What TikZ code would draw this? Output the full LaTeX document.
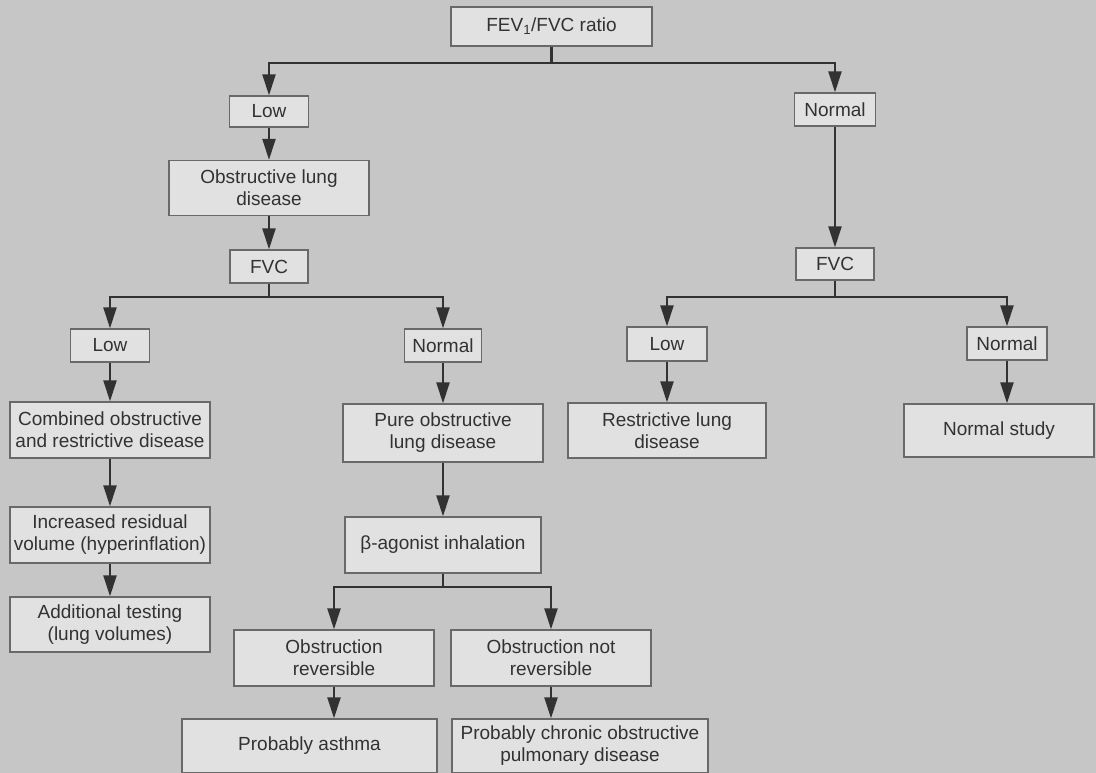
\documentclass[tikz,border=0pt]{standalone}
\usepackage{fontspec}
\setmainfont{Liberation Sans}
\usepackage{xcolor}
\usepackage{tikz}
\usetikzlibrary{arrows.meta, calc}

\definecolor{paper}{RGB}{198,198,198}
\definecolor{boxfill}{RGB}{225,225,225}
\definecolor{boxline}{RGB}{105,105,105}
\definecolor{ink}{RGB}{50,50,50}

\begin{document}
\begin{tikzpicture}[
    x=1pt, y=-1pt,
    box/.style={draw=boxline, line width=1.3pt, fill=boxfill, align=center,
        inner sep=2pt, text=ink, font=\fontsize{19}{22}\selectfont},
    link/.style={draw=ink, line width=2.2pt},
    flow/.style={link, -{Triangle[length=21pt, width=13pt]}}
]
\fill[paper] (0,0) rectangle (1096,773);
\useasboundingbox (0,0) rectangle (1096,773);

\node[box, minimum width=201pt, minimum height=39pt] (ratio) at (551.5,26.5) {FEV\textsubscript{1}/FVC ratio};
\node[box, minimum width=79pt, minimum height=31pt] (low1) at (269,111.5) {Low};
\node[box, minimum width=81pt, minimum height=33pt] (normal1) at (835,109.5) {Normal};
\node[box, minimum width=200pt, minimum height=55pt] (obstr) at (269,188) {Obstructive lung\\disease};
\node[box, minimum width=78pt, minimum height=33pt] (fvc1) at (269,266.5) {FVC};
\node[box, minimum width=78pt, minimum height=32pt] (fvc2) at (835,264) {FVC};

\node[box, minimum width=79pt, minimum height=33pt] (low2) at (110,345.5) {Low};
\node[box, minimum width=77pt, minimum height=33pt] (normal2) at (443,345.5) {Normal};
\node[box, minimum width=80pt, minimum height=34pt] (low3) at (667,344) {Low};
\node[box, minimum width=80pt, minimum height=33pt] (normal3) at (1007,343.5) {Normal};

\node[box, minimum width=200pt, minimum height=56pt] (combined) at (110,430) {Combined obstructive\\and restrictive disease};
\node[box, minimum width=200pt, minimum height=58pt] (pure) at (443,433) {Pure obstructive\\lung disease};
\node[box, minimum width=198pt, minimum height=55pt] (restr) at (667,430.5) {Restrictive lung\\disease};
\node[box, minimum width=190pt, minimum height=53pt] (nstudy) at (999,430.5) {Normal study};

\node[box, minimum width=200pt, minimum height=56pt] (incr) at (110,535) {Increased residual\\volume (hyperinflation)};
\node[box, minimum width=200pt, minimum height=55pt] (addl) at (110,624.5) {Additional testing\\(lung volumes)};
\node[box, minimum width=196pt, minimum height=56pt] (beta) at (443,545) {β-agonist inhalation};
\node[box, minimum width=200pt, minimum height=56pt] (obsrev) at (334,658) {Obstruction\\reversible};
\node[box, minimum width=200pt, minimum height=56pt] (obsnot) at (551,658) {Obstruction not\\reversible};
\node[box, minimum width=255pt, minimum height=54pt] (asthma) at (309.5,746) {Probably asthma};
\node[box, minimum width=256pt, minimum height=54pt] (copd) at (580,746) {Probably chronic obstructive\\pulmonary disease};

\coordinate (j0) at (551.5,63);
\coordinate (j1) at (269,297);
\coordinate (j2) at (835,297);
\coordinate (j3) at (443,587);

\draw[link] (ratio) -- (j0);
\draw[flow] (j0) -| (low1);
\draw[flow] (j0) -| (normal1);
\draw[flow] (low1) -- (obstr);
\draw[flow] (obstr) -- (fvc1);
\draw[flow] (normal1) -- (fvc2);

\draw[link] (fvc1) -- (j1);
\draw[flow] (j1) -| (low2);
\draw[flow] (j1) -| (normal2);
\draw[link] (fvc2) -- (j2);
\draw[flow] (j2) -| (low3);
\draw[flow] (j2) -| (normal3);

\draw[flow] (low2) -- (combined);
\draw[flow] (combined) -- (incr);
\draw[flow] (incr) -- (addl);
\draw[flow] (normal2) -- (pure);
\draw[flow] (pure) -- (beta);
\draw[flow] (low3) -- (restr);
\draw[flow] (normal3.south) -- (normal3.south |- nstudy.north);

\draw[link] (beta) -- (j3);
\draw[flow] (j3) -| (obsrev);
\draw[flow] (j3) -| (obsnot);
\draw[flow] (obsrev.south) -- (obsrev.south |- asthma.north);
\draw[flow] (obsnot.south) -- (obsnot.south |- copd.north);
\end{tikzpicture}
\end{document}
